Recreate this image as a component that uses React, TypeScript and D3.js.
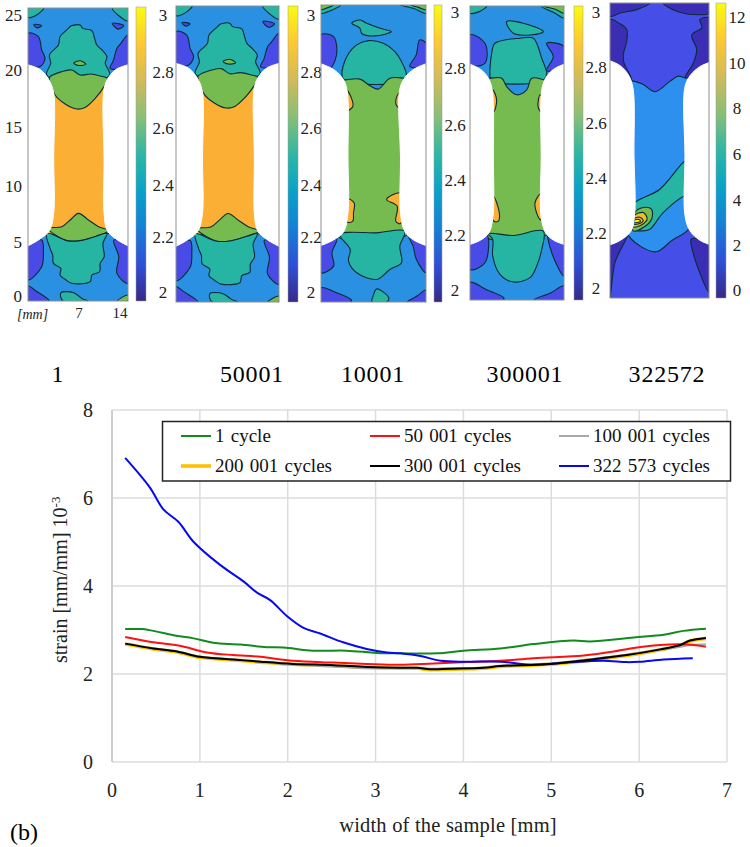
import React from "react";
import * as d3 from "d3";

const SERIF = "'Liberation Serif', serif";

// ---------- line chart data ----------
const blueX = [0.15,0.43,0.585,0.755,0.93,1.23,1.5,1.65,1.8,1.99,2.18,2.37,2.63,2.9,3.13,3.28,3.51,3.74,4.04,4.42,4.8,5.18,5.59,5.86,6.01,6.28,6.61];
const blueY = [6.91,6.24,5.74,5.46,5.0,4.48,4.1,3.85,3.68,3.32,3.05,2.92,2.72,2.57,2.49,2.47,2.41,2.3,2.28,2.28,2.21,2.26,2.3,2.27,2.28,2.33,2.36];
const greenX = [0.15,0.35,0.47,0.7,0.93,1.15,1.46,1.76,1.95,2.29,2.67,3.01,3.28,3.7,4.0,4.42,4.8,5.25,5.44,5.94,6.28,6.5,6.76];
const greenY = [3.02,3.02,2.98,2.88,2.81,2.71,2.67,2.61,2.6,2.53,2.53,2.48,2.47,2.47,2.53,2.58,2.68,2.76,2.74,2.83,2.89,2.98,3.03];
const redX = [0.15,0.47,0.77,1.08,1.38,1.69,2.06,2.52,2.9,3.28,3.66,4.04,4.42,4.8,5.37,5.71,5.9,6.24,6.55,6.76];
const redY = [2.84,2.72,2.64,2.49,2.43,2.39,2.3,2.26,2.23,2.21,2.24,2.27,2.3,2.36,2.42,2.51,2.58,2.66,2.67,2.62];
const blackX = [0.15,0.47,0.74,1.0,1.38,1.69,2.06,2.52,2.9,3.28,3.47,3.62,3.85,4.23,4.42,4.99,5.41,5.86,6.24,6.47,6.58,6.76];
const blackY = [2.69,2.58,2.51,2.39,2.33,2.28,2.23,2.2,2.16,2.14,2.14,2.11,2.12,2.14,2.18,2.23,2.32,2.43,2.56,2.66,2.76,2.82];
const orangeY = [2.68,2.57,2.5,2.38,2.32,2.27,2.22,2.19,2.15,2.13,2.13,2.1,2.11,2.13,2.17,2.22,2.31,2.42,2.55,2.65,2.75,2.81];
const grayY = [2.69,2.58,2.51,2.39,2.33,2.28,2.21,2.17,2.13,2.14,2.14,2.12,2.13,2.15,2.19,2.24,2.33,2.44,2.55,2.62,2.66,2.67];

const legendNames = ["1 cycle","50 001 cycles","100 001 cycles","200 001 cycles","300 001 cycles","322 573 cycles"];
const legendColors = ["#118a1e","#ff1010","#a8a8a8","#ffc000","#000000","#0808f0"];
const xTicks = [0,1,2,3,4,5,6,7];
const yTicks = [0,2,4,6,8];

// ---------- contour panels: outlines in sample mm (u 0-14, v 0-25) ----------
type Pt = [number, number];
type Shape = { level: string; pts: Pt[] };

const LEVEL: Record<string,string> = {
  dark:"#3a2fb4", indigo:"#4a4ce6", indigoE:"#4550e8", blue:"#2c90e2", blueE:"#2e90ee", teal:"#25b5a2", green:"#75bb50", orange:"#fbb034", gold:"#e8c020", yellow:"#f8f020", white:"#ffffff",
};

const notchA: Pt[][] = [
  [[0,20.15],[1.7,19.75],[2.9,18.9],[3.56,17.9],[3.6,12],[3.6,7.5],[3.0,6.0],[1.7,5.3],[0,4.7]],
  [[14,20.15],[12.3,19.75],[11.1,18.9],[10.6,17.9],[10.65,12],[10.65,7.5],[11.1,6.0],[12.3,5.3],[14,4.7]],
];
const notchC: Pt[][] = [
  [[0,20.05],[1.6,19.6],[2.8,18.9],[3.45,17.9],[3.6,12],[3.6,7.5],[3.0,5.9],[1.6,5.2],[0,4.75]],
  [[14,20.05],[12.4,19.6],[11.2,18.9],[10.5,17.9],[10.6,12],[10.6,7.5],[11.2,5.9],[12.4,5.2],[14,4.75]],
];
const notchD: Pt[][] = [
  [[0,20.05],[1.6,19.6],[2.7,18.9],[3.3,17.9],[3.48,12],[3.4,7.0],[2.8,5.7],[1.6,5.1],[0,4.72]],
  [[14,20.05],[12.4,19.6],[11.3,18.9],[10.7,17.9],[10.6,12],[10.6,7.0],[11.3,5.7],[12.4,5.1],[14,4.72]],
];
const notchE: Pt[][] = [
  [[0,20.1],[1.4,19.7],[2.6,18.9],[3.25,17.8],[3.4,12],[3.5,7.2],[3.0,5.7],[1.5,4.9],[0,4.5]],
  [[14,19.95],[12.7,19.6],[11.4,18.9],[10.6,17.9],[10.6,12],[10.6,7.0],[11.3,5.7],[12.7,4.9],[14,4.55]],
];

const shapesAB: Shape[] = [
  { level:"teal", pts:[[2.62,19.28],[3.18,20.28],[3.0,20.99],[4.26,21.84],[4.49,22.55],[5.66,23.26],[6.0,23.46],[7.3,23.55],[7.68,23.26],[8.94,23.07],[9.32,22.41],[9.64,21.84],[10.35,21.42],[11.05,20.85],[10.81,20.28],[11.42,19.28],[7,18.5]] },
  { level:"orange", pts:[[2,18.6],[7,18.4],[12,18.6],[12,12],[12,6],[7,5.9],[2,6],[2,12]] },
  { level:"green", pts:[[3,19.06],[4.73,19.57],[6.13,19.71],[7.3,19.28],[8.71,19.37],[10.11,19.2],[11.14,18.97],[10.58,18.23],[9.41,17.29],[8,16.52],[6.84,16.38],[5.2,16.81],[3.79,17.58],[3.4,18.23]] },
  { level:"green", pts:[[2.8,6.2],[4.73,6.34],[5.9,6.91],[7.07,7.48],[8.47,6.91],[9.88,6.34],[11.28,6.0],[9.64,5.55],[7.3,5.15],[5.43,5.15]] },
  { level:"teal", pts:[[11.05,5.77],[10.49,4.92],[10.67,3.78],[10.11,3.21],[10.02,2.5],[8.94,2.22],[8.71,1.65],[6.13,1.51],[5.2,1.85],[4.49,2.22],[4.59,2.79],[3.56,3.21],[3.46,3.92],[3.09,4.49],[2.62,5.77],[5.43,5.15],[7.3,5.15],[9.64,5.55]] },
  { level:"indigo", pts:[[0,22.84],[1.45,22.55],[1.92,21.42],[2.39,20.7],[1.69,20],[0,20.1]] },
  { level:"indigo", pts:[[14,22.7],[12.9,21.9],[12.45,21.56],[11.98,20.56],[11.5,19.85],[14,20.1]] },
  { level:"indigo", pts:[[0,4.78],[1.92,5.2],[2.15,4.07],[1.92,2.93],[0,1.8]] },
  { level:"indigo", pts:[[12,5.2],[14,4.78],[14,1.5],[12.45,2.36],[12.7,3.78]] },
  { level:"teal", pts:[[0,25],[2.2,25],[1.2,24.4],[0,24.2]] },
  { level:"teal", pts:[[11.8,25],[14,25],[14,23.9],[12.6,24.4]] },
  { level:"indigo", pts:[[0.8,23.6],[1.9,23.5],[1.3,23.3]] },
  { level:"indigo", pts:[[11.8,23.7],[13.4,23.5],[12.6,23.2]] },
  { level:"teal", pts:[[4.6,0.7],[6.4,0.7],[7.6,0.2],[8.4,0],[4.9,0]] },
  { level:"indigo", pts:[[0,1.3],[1,0.9],[3,0],[0,0]] },
  { level:"green", pts:[[12.5,0],[14,0.5],[14,0]] },
  { level:"green", pts:[[6.4,20.3],[7.3,20.5],[8.1,20.2],[7.1,20.1]] },
];

const shapesC: Shape[] = [
  { level:"teal", pts:[[2.78,19.12],[3.45,20.66],[4.77,21.64],[6.32,22.0],[8.3,21.78],[9.85,21.08],[10.95,19.96],[11.4,19.12],[11.17,18.6],[3.22,18.6]] },
  { level:"green", pts:[[2,5.6],[2,12],[2,18.7],[3.22,18.7],[5.2,18.76],[6.54,18.2],[7.64,17.92],[9.19,18.84],[11.17,18.84],[12,18.8],[12,12],[12,5.9]] },
  { level:"orange", pts:[[3.36,17.86],[3.97,17.3],[4.24,16.46],[3.53,16.13],[3.2,17]] },
  { level:"orange", pts:[[10.42,17.58],[9.98,17.02],[10.16,16.46],[10.6,16.4],[10.8,17]] },
  { level:"orange", pts:[[3.53,8.68],[4.42,8.34],[4.33,7.5],[4.24,6.8],[3.53,6.72],[3.2,7.5]] },
  { level:"orange", pts:[[10.6,9.18],[8.75,8.62],[10.16,8.06],[9.98,6.8],[10.6,6.6],[10.9,8]] },
  { level:"teal", pts:[[2.56,5.68],[7.42,5.82],[11.17,5.96],[10.51,4.7],[10.73,3.3],[9.19,2.74],[7.42,1.9],[4.77,2.46],[3.67,3.44],[3.89,4.42]] },
  { level:"teal", pts:[[4.1,23.46],[5.2,23.74],[6.1,23.46],[7.86,23.04],[9.4,22.76],[7.2,22.4],[5.43,22.6],[5.2,23.04]] },
  { level:"indigo", pts:[[0,22.48],[1.68,22.34],[2.12,21.22],[1.9,20.38],[1.24,19.68],[0,19.96]] },
  { level:"indigo", pts:[[14,21.78],[13.16,22.06],[12.7,20.8],[11.84,19.82],[14,19.96]] },
  { level:"indigo", pts:[[0,4.84],[2.12,5.32],[1.46,4.14],[1.68,3.02],[0,2.46]] },
  { level:"indigo", pts:[[11.62,5.68],[14,4.84],[14,2.46],[12.72,3.58],[12.28,4.7]] },
  { level:"teal", pts:[[0,25],[2.6,25],[1.2,24.5],[0,24.3]] },
  { level:"green", pts:[[0,25],[1.6,25],[0.6,24.7],[0,24.6]] },
  { level:"teal", pts:[[10.6,25],[14,25],[14,24.3],[12.4,24.7]] },
  { level:"green", pts:[[12,25],[14,25],[14,24.6],[13,24.8]] },
  { level:"teal", pts:[[7.4,1.1],[9,0.4],[8.8,0],[6.8,0],[7,0.6]] },
  { level:"indigo", pts:[[0,1.2],[2,0.8],[4,0.2],[4,0],[0,0]] },
  { level:"indigo", pts:[[11.5,0],[14,0],[14,1],[12.8,0.5]] },
];

const shapesD: Shape[] = [
  { level:"teal", pts:[[2.98,19.0],[3.23,20.98],[3.72,21.83],[7.45,22.26],[9.43,22.26],[10.68,20.56],[11.42,19.14],[10.68,18.6],[3.2,18.6]] },
  { level:"green", pts:[[2,5.5],[2,12],[2,18.8],[3,18.86],[4.72,18.86],[5.46,18.15],[6.95,17.45],[8.44,17.87],[9.2,18.86],[11.2,18.72],[12,18.7],[12,12],[12,5.8]] },
  { level:"orange", pts:[[3.38,17.87],[3.97,17.02],[3.57,16.04],[3.1,17]] },
  { level:"orange", pts:[[10.43,17.45],[10.13,16.46],[10.53,16.04],[10.9,17]] },
  { level:"orange", pts:[[3.48,8.82],[4.37,7.41],[4.22,6.7],[3.57,6.7],[3.1,7.5]] },
  { level:"orange", pts:[[10.68,9.1],[9.68,8.26],[10.43,6.84],[10.8,6.84],[11,8]] },
  { level:"teal", pts:[[2.73,5.63],[6.45,5.49],[10.92,5.85],[10.68,4.3],[9.93,2.88],[8.94,1.9],[6.45,1.53],[4.47,2.18],[3.38,3.73],[3.38,5.15]] },
  { level:"teal", pts:[[5.46,23.67],[7.94,23.53],[10.92,22.82],[8.94,22.54],[6.45,22.68]] },
  { level:"indigo", pts:[[0,22.54],[2.23,21.83],[2.23,20.14],[0,20]] },
  { level:"indigo", pts:[[14,21.55],[11.4,21.83],[12.41,20.7],[11.4,19.5],[14,19.95]] },
  { level:"indigo", pts:[[0,4.86],[2.48,5.57],[2.23,3.17],[0,2.6]] },
  { level:"indigo", pts:[[11.67,5.71],[14,4.72],[14,2.04],[12.17,4.02]] },
  { level:"teal", pts:[[0,25],[2.5,25],[1.3,24.5],[0,24.4]] },
  { level:"teal", pts:[[10.6,25],[14,25],[14,24],[12.6,24.4]] },
  { level:"green", pts:[[11,25],[14,25],[14,24.4],[12.8,24.7]] },
  { level:"indigo", pts:[[0,1.5],[2.4,0.9],[5,0.2],[5,0],[0,0]] },
  { level:"indigo", pts:[[9.5,0],[14,0],[14,1.2],[12,0.6]] },
];

const shapesE: Shape[] = [
  { level:"blueE", pts:[[2.4,18.3],[3.07,18.4],[4.7,18.1],[6.37,17.48],[8.5,18.38],[9.66,18.8],[10.6,18.66],[11.5,18.6],[11.5,12],[11.5,6.12],[8.69,4.85],[6.58,3.92],[4.23,4.42],[2.4,5.55],[2.4,12]] },
  { level:"teal", pts:[[3.0,7.8],[7.05,9.22],[10.33,11.47],[11.6,12],[11.6,8.3],[10.7,8.65],[7.52,7.24],[5.64,5.83],[4.46,5.69],[3.05,5.83]] },
  { level:"green", pts:[[3.52,7.24],[4.7,7.67],[5.87,7.53],[5.87,6.68],[4.7,5.97],[3.29,5.69]] },
  { level:"gold", pts:[[3.38,6.96],[4.7,7.24],[5.26,6.68],[4.23,6.12],[3.19,6.06]] },
  { level:"orange", pts:[[3.4,6.7],[4.2,6.85],[4.7,6.55],[4.1,6.3],[3.3,6.3]] },
  { level:"yellow", pts:[[3.5,6.6],[4.1,6.65],[4.3,6.5],[3.9,6.4],[3.4,6.4]] },
  { level:"dark", pts:[[0,23.6],[1.4,23.25],[2.36,22.75],[2.36,21.76],[1.89,20.63],[1.98,19.93],[3.07,18.5],[0,19.9]] },
  { level:"dark", pts:[[14,23.73],[12.7,23.6],[13,22.9],[11.56,22.3],[12.26,21.06],[11.8,19.93],[10.6,18.66],[14,19.93]] },
  { level:"dark", pts:[[0,4.48],[2.58,5.55],[0.7,3.0],[0,0.06]] },
  { level:"dark", pts:[[11.5,5],[14,4.57],[14,0.48],[12.68,2.17],[11.74,3.86]] },
  { level:"dark", pts:[[0,25],[5.66,25],[3.77,24.44],[1.4,24.15],[0,23.87]] },
  { level:"dark", pts:[[7.55,25],[14,25],[14,24.15],[12.7,24],[9.43,24.3]] },
];

const panels = [
  { x0:28, x1:128, y0:8, y1:301, base:"blue", shapes:shapesAB, notch:notchA, barX:136, barW:10, ticks:[2,2.2,2.4,2.6,2.8,3], labelX:163, tickY:[292,237,185,128,72,15], barTop:7, barBot:301 },
  { x0:176, x1:279, y0:6, y1:302, base:"blue", shapes:shapesAB, notch:notchA, barX:288, barW:10, ticks:[2,2.2,2.4,2.6,2.8,3], labelX:311, tickY:[292,237,185,128,72,15], barTop:6, barBot:302 },
  { x0:321, x1:426, y0:5, y1:302, base:"blue", shapes:shapesC, notch:notchC, barX:434, barW:8, ticks:[2,2.2,2.4,2.6,2.8,3], labelX:455, tickY:[290,235,180,125,68,12], barTop:5, barBot:302 },
  { x0:470, x1:564, y0:6, y1:300, base:"blue", shapes:shapesD, notch:notchD, barX:574, barW:9, ticks:[2,2.2,2.4,2.6,2.8,3], labelX:596, tickY:[288,233,178,123,67,12], barTop:6, barBot:300 },
  { x0:610, x1:709, y0:3, y1:298, base:"indigoE", shapes:shapesE, notch:notchE, barX:716, barW:10, ticks:[0,2,4,6,8,10,12], labelX:737, tickY:[290,245,200,154,108,63,17], barTop:3, barBot:298 },
];

const parula = ["#352a87","#2f4fd8","#1480d6","#08a2c8","#2eb7a4","#87bf77","#d1bb59","#fec832","#f9fb0e"];
const caseLabels = [{t:"1",x:58},{t:"50001",x:252},{t:"10001",x:373},{t:"300001",x:525},{t:"322572",x:667}];
const sideTicks = [{t:"25",y:15},{t:"20",y:70},{t:"15",y:127},{t:"10",y:186},{t:"5",y:242},{t:"0",y:296}];

function Panel({ p, idx }: { p: typeof panels[number]; idx: number }) {
  const sx = d3.scaleLinear().domain([0,14]).range([p.x0,p.x1]);
  const sy = d3.scaleLinear().domain([0,25]).range([p.y1,p.y0]);
  const closed = d3.line<Pt>().x(d=>sx(d[0])).y(d=>sy(d[1])).curve(d3.curveCatmullRomClosed.alpha(0.5));
  const open = d3.line<Pt>().x(d=>sx(d[0])).y(d=>sy(d[1])).curve(d3.curveCatmullRom.alpha(0.5));
  const clip = `clip${idx}`;
  return (
    <g>
      <clipPath id={clip}><rect x={p.x0} y={p.y0} width={p.x1-p.x0} height={p.y1-p.y0}/></clipPath>
      <g clipPath={`url(#${clip})`}>
        <g filter="url(#soft)">
          <rect x={p.x0} y={p.y0} width={p.x1-p.x0} height={p.y1-p.y0} fill={LEVEL[p.base]}/>
          {p.shapes.map((s,i)=>(
            <path key={i} d={closed(s.pts)||""} fill={LEVEL[s.level]} stroke="#0c2b38" strokeWidth={1.1}/>
          ))}
          {p.notch.map((n,i)=>(
            <path key={i} d={(open(n)||"")+"Z"} fill="#fff" stroke="#fff" strokeWidth={1}/>
          ))}
        </g>
      </g>
      <rect x={p.x0} y={p.y0} width={p.x1-p.x0} height={p.y1-p.y0} fill="none" stroke="#8f8f8f" strokeWidth={1}/>
      <rect x={p.barX} y={p.barTop} width={p.barW} height={p.barBot-p.barTop} fill={`url(#parula)`} stroke="#9a9a9a" strokeWidth={0.5}/>
      {p.ticks.map((t,i)=>(
        <text key={t} x={p.labelX} y={p.tickY[i]} dy="0.35em" textAnchor="middle" fontFamily={SERIF} fontSize={17} fill="#222">{t}</text>
      ))}
    </g>
  );
}

export default function App() {
  const x = d3.scaleLinear().domain([0,7]).range([112,727]);
  const y = d3.scaleLinear().domain([0,8]).range([762,410]);
  const line = (xs:number[], ys:number[]) =>
    d3.line<number>().x((_,i)=>x(xs[i])).y(d=>y(d)).curve(d3.curveCatmullRom.alpha(0.5))(ys) || "";
  const series = [
    { c:legendColors[3], w:3.6, xs:blackX, ys:orangeY },
    { c:legendColors[2], w:2, xs:blackX, ys:grayY },
    { c:legendColors[1], w:2, xs:redX, ys:redY },
    { c:legendColors[0], w:2, xs:greenX, ys:greenY },
    { c:legendColors[5], w:2, xs:blueX, ys:blueY },
    { c:legendColors[4], w:2, xs:blackX, ys:blackY },
  ];
  const legendCols = [181,370,559];
  const legendRows = [436,466];
  return (
    <svg width={750} height={847} style={{position:"absolute",left:0,top:0,background:"#fff"}}>
      <defs>
        <linearGradient id="parula" x1="0" y1="1" x2="0" y2="0">
          {parula.map((c,i)=><stop key={i} offset={i/(parula.length-1)} stopColor={c}/>)}
        </linearGradient>
        <filter id="soft" x="-2%" y="-2%" width="104%" height="104%"><feGaussianBlur stdDeviation="0.45"/></filter>
      </defs>

      {panels.map((p,i)=><Panel key={i} p={p} idx={i}/>)}
      {sideTicks.map(t=>(
        <text key={t.t} x={22} y={t.y} dy="0.35em" textAnchor="end" fontFamily={SERIF} fontSize={17} fill="#222">{t.t}</text>
      ))}
      <text x={17} y={319} fontFamily={SERIF} fontStyle="italic" fontSize={14} fill="#222">[mm]</text>
      <text x={79} y={318} textAnchor="middle" fontFamily={SERIF} fontSize={15} fill="#222">7</text>
      <text x={120} y={318} textAnchor="middle" fontFamily={SERIF} fontSize={15} fill="#222">14</text>
      {caseLabels.map(c=>(
        <text key={c.x} x={c.x} y={382} textAnchor="middle" fontFamily={SERIF} fontSize={24} letterSpacing={0.8} fill="#000">{c.t}</text>
      ))}

      {xTicks.slice(1).map(t=><line key={t} x1={x(t)} x2={x(t)} y1={410} y2={762} stroke="#dcdcdc" strokeWidth={1.5}/>)}
      {yTicks.map(t=><line key={t} x1={112} x2={727} y1={y(t)} y2={y(t)} stroke="#dcdcdc" strokeWidth={1.5}/>)}
      <line x1={112} x2={112} y1={410} y2={762} stroke="#cdcdcd" strokeWidth={2}/>

      {series.map((s,i)=><path key={i} d={line(s.xs,s.ys)} fill="none" stroke={s.c} strokeWidth={s.w} strokeLinejoin="round"/>)}

      <rect x={162.5} y={421.5} width={568} height={59.5} fill="#fff" stroke="#222" strokeWidth={1.5}/>
      {legendNames.map((n,i)=>{
        const cx = legendCols[i%3], cy = legendRows[Math.floor(i/3)];
        return (
          <g key={n}>
            <line x1={cx} x2={cx+30} y1={cy} y2={cy} stroke={legendColors[i]} strokeWidth={i===3?3.6:2}/>
            <text x={cx+34} y={cy} dy="0.33em" fontFamily={SERIF} fontSize={19} wordSpacing={1.5} fill="#111">{n}</text>
          </g>
        );
      })}

      {xTicks.map(t=><text key={t} x={x(t)} y={797} textAnchor="middle" fontFamily={SERIF} fontSize={20} fill="#222">{t}</text>)}
      {yTicks.map(t=><text key={t} x={93} y={y(t)} dy="0.35em" textAnchor="end" fontFamily={SERIF} fontSize={20} fill="#222">{t}</text>)}
      <text x={448} y={832} textAnchor="middle" fontFamily={SERIF} fontSize={20.5} letterSpacing={0.2} fill="#222">width of the sample [mm]</text>
      <text x={10} y={840} fontFamily={SERIF} fontSize={24} fill="#000">(b)</text>
      <text transform="translate(67,663) rotate(-90)" fontFamily={SERIF} fontSize={20} fill="#222">
        strain [mm/mm] 10<tspan dy={-7} fontSize={13}>-3</tspan>
      </text>
    </svg>
  );
}
